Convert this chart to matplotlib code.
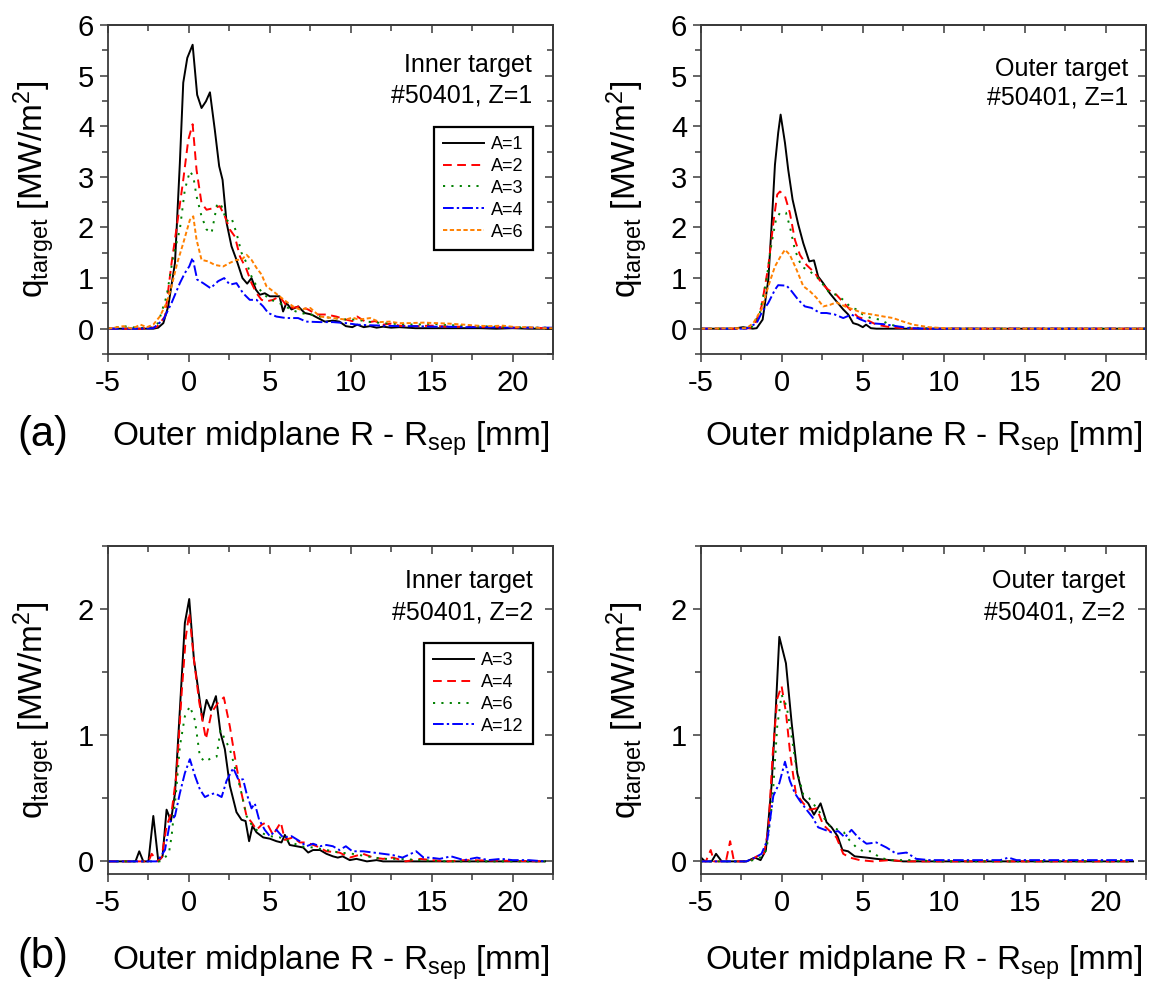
import numpy as np
import matplotlib
matplotlib.use("Agg")
import matplotlib.pyplot as plt
from matplotlib.ticker import MultipleLocator

plt.rcParams['font.family'] = ['Liberation Sans', 'DejaVu Sans']
plt.rcParams['mathtext.fontset'] = 'custom'
plt.rcParams['mathtext.rm'] = 'Liberation Sans'
plt.rcParams['mathtext.it'] = 'Liberation Sans:italic'
plt.rcParams['axes.unicode_minus'] = False

# ---- (a) inner target, Z=1 : (R - Rsep [mm], q [MW/m2])
in1_A1 = [(-5, 0), (-3, 0), (-2.2, 0), (-1.9, 0.02), (-1.58, 0.11), (-1.28, 0.44), (-0.86, 1.30),
          (-0.56, 3.27), (-0.35, 4.86), (-0.10, 5.35), (0.23, 5.61), (0.51, 4.62), (0.78, 4.36),
          (1.05, 4.49), (1.30, 4.67), (1.60, 3.93), (1.87, 3.21), (2.08, 2.94), (2.33, 2.09),
          (2.63, 1.63), (2.94, 1.36), (3.31, 1.00), (3.60, 0.89), (3.87, 1.00), (4.14, 0.77),
          (4.38, 0.67), (4.69, 0.70), (5.0, 0.64), (5.41, 0.64), (5.6, 0.64), (5.82, 0.34),
          (6.03, 0.51), (6.34, 0.38), (6.75, 0.44), (7.16, 0.31), (7.57, 0.28), (7.98, 0.21),
          (8.4, 0.14), (8.9, 0.16), (9.3, 0.14), (9.7, 0.05), (10.1, 0.03), (10.4, 0.08),
          (10.8, 0.03), (11.2, 0.05), (11.6, 0.02), (12.0, 0.04), (12.5, 0.02), (13.0, 0.03),
          (13.5, 0.02), (14.0, 0.01), (15.0, 0.01), (16.0, 0.01), (17.0, 0.01), (18.0, 0.01),
          (19.0, 0.0), (20.0, 0.01), (21.0, 0.0), (22.5, 0.0)]
in1_A2 = [(-5, 0), (-3, 0), (-2.0, 0.03), (-1.48, 0.24), (-1.07, 1.30), (-0.66, 2.22), (-0.35, 2.94),
          (-0.04, 3.73), (0.23, 4.04), (0.47, 3.14), (0.78, 2.48), (1.09, 2.35), (1.5, 2.38),
          (1.91, 2.42), (2.22, 2.22), (2.53, 1.96), (2.84, 1.82), (3.15, 1.43), (3.56, 1.17),
          (3.87, 0.90), (4.18, 0.70), (4.49, 0.57), (4.79, 0.54), (5.2, 0.57), (5.6, 0.64),
          (6.0, 0.47), (6.44, 0.41), (6.85, 0.44), (7.36, 0.38), (7.9, 0.28), (8.5, 0.28),
          (9.1, 0.24), (9.7, 0.18), (10.1, 0.15), (10.4, 0.24), (11.0, 0.12), (11.5, 0.15),
          (12.0, 0.08), (12.5, 0.10), (13.0, 0.06), (14.0, 0.05), (15.0, 0.06), (16.0, 0.04),
          (17.0, 0.04), (18.0, 0.03), (19.0, 0.03), (20.0, 0.02), (22.5, 0.01)]
in1_A3 = [(-5, 0), (-4.05, 0.05), (-3, 0.01), (-2.3, 0.03), (-1.9, 0.11), (-1.38, 0.64), (-0.97, 1.43),
          (-0.56, 1.96), (-0.25, 2.75), (0.06, 3.11), (0.27, 3.01), (0.47, 2.62), (0.78, 2.22),
          (1.09, 1.96), (1.4, 1.89), (1.6, 2.22), (1.75, 2.48), (2.02, 2.42), (2.33, 2.12),
          (2.63, 2.19), (2.94, 1.89), (3.25, 1.50), (3.56, 1.30), (3.87, 1.03), (4.18, 0.84),
          (4.59, 0.70), (5.0, 0.57), (5.41, 0.54), (5.8, 0.47), (6.3, 0.38), (6.85, 0.31),
          (7.5, 0.28), (8.1, 0.24), (8.9, 0.21), (9.7, 0.18), (10.4, 0.18), (11.0, 0.14),
          (12.0, 0.11), (13.0, 0.09), (14.0, 0.08), (15.0, 0.10), (16.0, 0.07), (17.0, 0.06),
          (18.0, 0.05), (19.0, 0.04), (20.0, 0.03), (21.0, 0.02), (22.5, 0.02)]
in1_A4 = [(-5, 0), (-3, 0), (-2.2, 0.01), (-1.58, 0.18), (-1.07, 0.51), (-0.56, 0.90), (-0.25, 1.10),
          (0.02, 1.23), (0.23, 1.40), (0.51, 0.97), (0.88, 0.90), (1.34, 0.80), (1.81, 0.94),
          (2.18, 1.00), (2.53, 0.87), (2.94, 0.90), (3.35, 0.70), (3.76, 0.57), (4.18, 0.57),
          (4.59, 0.44), (4.9, 0.31), (5.4, 0.24), (6.0, 0.21), (6.75, 0.21), (7.25, 0.14),
          (8.1, 0.13), (8.9, 0.13), (9.7, 0.11), (10.4, 0.08), (11.0, 0.07), (12.0, 0.06),
          (13.0, 0.05), (14.0, 0.05), (15.0, 0.04), (16.0, 0.04), (17.0, 0.03), (18.0, 0.03),
          (20.0, 0.02), (22.5, 0.02)]
in1_A6 = [(-5, 0), (-4.05, 0.05), (-3.5, 0.0), (-3.0, 0.08), (-2.6, 0.03), (-2.2, 0.08), (-1.8, 0.24),
          (-1.38, 0.51), (-1.07, 0.84), (-0.72, 1.30), (-0.35, 1.69), (0.06, 2.15), (0.27, 2.22),
          (0.47, 1.76), (0.78, 1.36), (1.19, 1.33), (1.6, 1.26), (2.12, 1.23), (2.53, 1.30),
          (2.94, 1.36), (3.25, 1.36), (3.56, 1.46), (3.87, 1.36), (4.18, 1.20), (4.49, 1.07),
          (4.79, 0.84), (5.2, 0.74), (5.6, 0.64), (6.0, 0.54), (6.44, 0.44), (6.85, 0.38),
          (7.5, 0.41), (8.1, 0.24), (8.9, 0.21), (9.7, 0.18), (10.1, 0.22), (10.5, 0.18),
          (11.2, 0.21), (11.8, 0.13), (12.4, 0.14), (13.0, 0.11), (13.6, 0.11), (14.5, 0.12),
          (15.3, 0.11), (16.1, 0.10), (17.0, 0.08), (17.8, 0.06), (18.6, 0.05), (19.4, 0.06),
          (20.2, 0.03), (21.0, 0.03), (21.9, 0.01), (22.5, 0.01)]

# ---- (a) outer target, Z=1
out1_A1 = [(-5, 0), (-3.0, 0), (-2.4, 0.03), (-1.8, 0.0), (-1.56, 0.01), (-1.19, 0.18), (-0.84, 0.97),
           (-0.64, 2.02), (-0.43, 3.24), (-0.23, 3.87), (-0.08, 4.23), (0.19, 3.67), (0.39, 3.14),
           (0.66, 2.55), (1.01, 2.06), (1.32, 1.69), (1.69, 1.33), (1.98, 1.35), (2.24, 1.03),
           (2.55, 0.90), (2.96, 0.70), (3.37, 0.54), (3.79, 0.38), (4.1, 0.28), (4.4, 0.11),
           (4.71, 0.08), (5.0, 0.03), (5.2, 0.08), (5.5, 0.01), (5.84, 0), (22.5, 0)]
out1_A2 = [(-5, 0), (-2.5, 0), (-1.98, 0.01), (-1.67, 0.08), (-1.26, 0.44), (-0.84, 1.23), (-0.53, 2.09),
           (-0.29, 2.65), (-0.12, 2.71), (0.19, 2.62), (0.49, 2.29), (0.8, 1.76), (1.11, 1.46),
           (1.52, 1.26), (2.04, 1.10), (2.45, 0.90), (2.86, 0.77), (3.37, 0.67), (3.79, 0.52),
           (4.2, 0.38), (4.71, 0.23), (5.2, 0.18), (5.84, 0.08), (6.67, 0.03), (7.49, 0.01),
           (8.5, 0), (22.5, 0)]
out1_A3 = [(-5, 0), (-2.5, 0), (-1.87, 0.03), (-1.36, 0.31), (-0.95, 0.97), (-0.64, 1.69), (-0.37, 2.15),
           (-0.12, 2.29), (0.25, 2.29), (0.49, 2.02), (0.8, 1.56), (1.21, 1.23), (1.73, 1.13),
           (2.14, 1.03), (2.55, 0.87), (2.96, 0.70), (3.37, 0.67), (3.79, 0.57), (4.2, 0.44),
           (4.6, 0.38), (5.0, 0.28), (5.5, 0.21), (6.05, 0.18), (6.67, 0.08), (7.49, 0.03),
           (8.3, 0.01), (9.5, 0), (22.5, 0)]
out1_A4 = [(-5, 0), (-2.2, 0), (-1.56, 0.11), (-1.26, 0.31), (-0.84, 0.51), (-0.43, 0.77), (-0.23, 0.86),
           (0.29, 0.85), (0.6, 0.74), (1.01, 0.57), (1.42, 0.44), (1.83, 0.41), (2.35, 0.31),
           (2.76, 0.31), (3.27, 0.28), (3.79, 0.21), (4.3, 0.28), (4.8, 0.19), (5.43, 0.11),
           (6.26, 0.09), (7.08, 0.05), (7.9, 0.01), (9.0, 0), (22.5, 0)]
out1_A6 = [(-5, 0), (-2.5, 0.01), (-2.18, 0.01), (-1.77, 0.11), (-1.26, 0.38), (-0.84, 0.84), (-0.43, 1.23),
           (-0.08, 1.43), (0.19, 1.56), (0.49, 1.46), (0.9, 1.17), (1.32, 0.84), (1.73, 0.74),
           (2.14, 0.61), (2.55, 0.44), (2.96, 0.47), (3.37, 0.52), (3.9, 0.44), (4.4, 0.38),
           (5.0, 0.31), (5.6, 0.28), (6.3, 0.24), (6.87, 0.21), (7.5, 0.14), (8.1, 0.08),
           (8.7, 0.05), (9.1, 0.03), (10.0, 0.01), (11.0, 0), (22.5, 0)]

# ---- (b) inner target, Z=2
in2_A3 = [(-5, 0), (-3.3, 0), (-3.07, 0.08), (-2.82, 0), (-2.5, 0), (-2.2, 0.36), (-1.89, 0), (-1.63, 0.04),
          (-1.38, 0.41), (-1.11, 0.32), (-0.86, 0.54), (-0.56, 1.2), (-0.25, 1.89), (0.02, 2.08),
          (0.31, 1.6), (0.58, 1.36), (0.84, 1.12), (1.09, 1.28), (1.36, 1.2), (1.67, 1.31),
          (1.95, 1.02), (2.22, 0.89), (2.53, 0.60), (2.94, 0.39), (3.25, 0.33), (3.5, 0.32),
          (3.72, 0.16), (3.93, 0.28), (4.18, 0.23), (4.59, 0.19), (5.0, 0.18), (5.41, 0.16),
          (5.72, 0.15), (5.93, 0.21), (6.23, 0.13), (6.65, 0.12), (7.06, 0.11), (7.37, 0.07),
          (7.67, 0.09), (8.1, 0.09), (8.5, 0.06), (8.9, 0.04), (9.2, 0.03), (9.5, 0.04),
          (9.94, 0.01), (10.35, 0.02), (11.0, 0), (11.6, 0.01), (12.0, 0), (22.0, 0)]
in2_A4 = [(-5, 0), (-2.5, 0), (-2.3, 0.06), (-1.95, 0), (-1.69, 0.03), (-1.38, 0.28), (-1.07, 0.39),
          (-0.76, 0.70), (-0.45, 1.33), (-0.19, 1.78), (0.02, 1.97), (0.31, 1.6), (0.64, 1.26),
          (1.05, 0.97), (1.4, 1.18), (1.81, 1.26), (2.16, 1.30), (2.53, 1.07), (2.9, 0.78),
          (3.25, 0.54), (3.56, 0.36), (3.87, 0.31), (4.18, 0.25), (4.49, 0.29), (4.79, 0.31),
          (5.2, 0.21), (5.68, 0.31), (5.93, 0.17), (6.44, 0.19), (6.85, 0.15), (7.26, 0.15),
          (7.9, 0.12), (8.5, 0.08), (9.3, 0.07), (9.94, 0.03), (10.76, 0.06), (11.4, 0.03),
          (12.0, 0.02), (12.6, 0.03), (13.4, 0), (14.3, 0.02), (15.0, 0.01), (16.0, 0.0),
          (17.0, 0.01), (22.0, 0)]
in2_A6 = [(-5, 0), (-1.8, 0), (-1.48, 0.03), (-1.23, 0.07), (-1.07, 0.2), (-0.8, 0.54), (-0.56, 0.91),
          (-0.25, 1.15), (0.06, 1.23), (0.37, 1.12), (0.68, 0.83), (0.99, 0.79), (1.4, 0.82),
          (1.71, 0.83), (1.95, 1.04), (2.22, 0.97), (2.53, 0.89), (2.94, 0.70), (3.25, 0.54),
          (3.56, 0.36), (3.97, 0.27), (4.38, 0.23), (5.0, 0.2), (5.62, 0.19), (6.23, 0.16),
          (6.85, 0.12), (7.67, 0.11), (8.5, 0.09), (9.3, 0.07), (10.1, 0.06), (11.0, 0.04),
          (12.0, 0.02), (13.0, 0.02), (14.3, 0.01), (16.0, 0.0), (22.0, 0)]
in2_A12 = [(-5, 0), (-2.0, 0), (-1.79, 0.03), (-1.48, 0.09), (-1.17, 0.31), (-0.86, 0.36), (-0.56, 0.54),
           (-0.25, 0.70), (0.06, 0.81), (0.37, 0.68), (0.68, 0.57), (0.99, 0.51), (1.3, 0.53),
           (1.6, 0.54), (2.02, 0.51), (2.33, 0.64), (2.74, 0.74), (3.05, 0.65), (3.35, 0.65),
           (3.56, 0.54), (3.87, 0.42), (4.07, 0.46), (4.34, 0.33), (4.69, 0.25), (5.0, 0.2),
           (5.41, 0.25), (5.82, 0.19), (6.34, 0.2), (6.85, 0.16), (7.26, 0.12), (7.67, 0.14),
           (8.1, 0.12), (8.5, 0.13), (8.9, 0.12), (9.3, 0.09), (9.7, 0.12), (10.1, 0.08),
           (10.76, 0.08), (11.4, 0.07), (12.0, 0.06), (12.6, 0.05), (13.2, 0.03), (14.05, 0.08),
           (14.5, 0.03), (14.9, 0.03), (15.5, 0.02), (16.2, 0.04), (17.0, 0.01), (17.8, 0.03),
           (18.5, 0.01), (19.3, 0.02), (20.0, 0.01), (21.0, 0.01), (22.0, 0.0)]

# ---- (b) outer target, Z=2
out2_A3 = [(-5, 0.03), (-4.75, 0), (-4.34, 0), (-4.07, 0.06), (-3.72, 0), (-2.18, 0), (-1.67, 0.03),
           (-1.32, 0.01), (-0.99, 0.09), (-0.64, 0.6), (-0.37, 1.23), (-0.16, 1.78), (0.25, 1.57),
           (0.6, 1.1), (0.95, 0.7), (1.32, 0.5), (1.63, 0.46), (1.98, 0.37), (2.39, 0.46),
           (2.76, 0.31), (3.07, 0.27), (3.44, 0.2), (3.74, 0.09), (4.09, 0.08), (4.5, 0.04),
           (5.23, 0.03), (5.84, 0.02), (6.67, 0.01), (7.5, 0), (21.7, 0)]
out2_A4 = [(-5, 0), (-4.7, 0), (-4.4, 0.09), (-4.2, 0), (-3.46, 0), (-3.2, 0.16), (-2.96, 0), (-1.98, 0),
           (-1.56, 0.04), (-1.11, 0.06), (-0.84, 0.25), (-0.58, 0.83), (-0.29, 1.29), (-0.02, 1.39),
           (0.25, 1.18), (0.53, 0.83), (0.86, 0.54), (1.32, 0.46), (1.73, 0.41), (2.14, 0.42),
           (2.55, 0.29), (2.96, 0.24), (3.37, 0.19), (3.79, 0.06), (4.2, 0.03), (4.81, 0.01),
           (5.64, 0), (6.67, 0.01), (7.7, 0), (21.7, 0)]
out2_A6 = [(-5, 0), (-2.2, 0), (-1.77, 0.01), (-1.36, 0.03), (-0.95, 0.09), (-0.58, 0.49), (-0.29, 1.07),
           (-0.02, 1.32), (0.29, 1.23), (0.6, 0.99), (0.91, 0.73), (1.32, 0.53), (1.69, 0.5),
           (2.04, 0.44), (2.45, 0.37), (2.96, 0.28), (3.48, 0.25), (3.83, 0.23), (4.16, 0.17),
           (4.61, 0.11), (5.02, 0.08), (5.53, 0.08), (6.05, 0.03), (6.67, 0.01), (8.3, 0.01),
           (9.5, 0), (21.7, 0)]
out2_A12 = [(-5, 0), (-2.2, 0), (-1.67, 0.03), (-1.26, 0.06), (-0.9, 0.17), (-0.53, 0.52), (-0.16, 0.62),
            (0.19, 0.79), (0.49, 0.64), (0.8, 0.54), (1.11, 0.48), (1.52, 0.41), (1.89, 0.35),
            (2.24, 0.27), (2.65, 0.25), (3.07, 0.23), (3.48, 0.24), (3.89, 0.19), (4.3, 0.25),
            (4.71, 0.19), (5.23, 0.14), (5.84, 0.15), (6.46, 0.11), (7.08, 0.06), (7.7, 0.07),
            (8.3, 0.02), (9.14, 0.01), (9.96, 0.01), (13.5, 0.01), (14.0, 0.03), (14.5, 0.01),
            (21.7, 0.01)]

labels_z1 = ["A=1", "A=2", "A=3", "A=4", "A=6"]
labels_z2 = ["A=3", "A=4", "A=6", "A=12"]

# line styles (colour, dash pattern)
sty = {
    "k": ("black", "-"),
    "r": ("#ff0000", (0, (4.5, 2.8))),
    "g": ("#008000", (0, (1.1, 3.2))),
    "b": ("#0000ff", (0, (5.5, 1.6, 1.2, 1.6))),
    "o": ("#ff8000", (0, (2.2, 1.3))),
}

LW = 1.4
W, H = 1154, 985
fig = plt.figure(figsize=(W / 100, H / 100), dpi=100)

def pos(left, top, bottom, right):
    return [left / W, 1 - bottom / H, (right - left) / W, (bottom - top) / H]

def setup(ax, ymax, ybot, top_px, bot_px, xlab_base):
    ax.set_xlim(-5, 22.5)
    ax.set_ylim(ybot, ymax)
    ax.xaxis.set_major_locator(MultipleLocator(5))
    ax.xaxis.set_minor_locator(MultipleLocator(2.5))
    ax.yaxis.set_major_locator(MultipleLocator(1))
    ax.yaxis.set_minor_locator(MultipleLocator(0.5))
    for s in ax.spines.values():
        s.set_color("#3a3a3a")
        s.set_linewidth(1.3)
    ax.tick_params(which="both", direction="out", labelsize=21, width=1.1, color="#3a3a3a")
    ax.tick_params(which="major", length=6, pad=4)
    ax.tick_params(which="minor", length=4)
    ax.tick_params(axis="x", which="major", pad=5)
    # mirrored inward ticks on top and right
    sx = ax.secondary_xaxis("top")
    sx.xaxis.set_major_locator(MultipleLocator(5))
    sx.xaxis.set_minor_locator(MultipleLocator(2.5))
    sx.tick_params(which="both", direction="in", labeltop=False, width=1.1, color="#3a3a3a")
    sx.tick_params(which="major", length=6)
    sx.tick_params(which="minor", length=4)
    sy = ax.secondary_yaxis("right")
    sy.yaxis.set_major_locator(MultipleLocator(1))
    sy.yaxis.set_minor_locator(MultipleLocator(0.5))
    sy.tick_params(which="both", direction="in", labelright=False, width=1.1, color="#3a3a3a")
    sy.tick_params(which="major", length=6)
    sy.tick_params(which="minor", length=4)
    for s in list(sx.spines.values()) + list(sy.spines.values()):
        s.set_color("#3a3a3a")
        s.set_linewidth(1.3)
    hgt = bot_px - top_px
    ax.set_xlabel(r"Outer midplane R - R$_{\mathrm{sep}}$ [mm]", fontsize=24)
    ax.xaxis.label.set_va("baseline")
    ax.xaxis.set_label_coords(0.5, (bot_px - xlab_base) / hgt)
    ax.set_ylabel(r"q$_{\mathrm{target}}$ [MW/m$^{2}$]", fontsize=24)
    ax.yaxis.set_label_coords(-51 / 445, 0.5)

def draw(ax, series, styles, labels):
    for data, key, lab in zip(series, styles, labels):
        xs, ys = zip(*data)
        c, ls = sty[key]
        ax.plot(xs, ys, color=c, linestyle=ls, lw=LW, label=lab)

def note(ax, l1, l2, xr, y1, y2):
    ax.text(xr, y1, l1, transform=ax.transAxes, ha="right", va="baseline", fontsize=18)
    ax.text(xr, y2, l2, transform=ax.transAxes, ha="right", va="baseline", fontsize=18)

def legend(ax, ytop):
    leg = ax.legend(loc="upper right", bbox_to_anchor=(0.955, ytop), fontsize=13,
                    handlelength=2.3, handletextpad=0.4, labelspacing=0.27,
                    borderpad=0.5, borderaxespad=0, fancybox=False, framealpha=1,
                    edgecolor="black")
    leg.get_frame().set_linewidth(1.6)

ax1 = fig.add_axes(pos(108, 25, 354, 553))
ax2 = fig.add_axes(pos(701, 25, 354, 1146))
ax3 = fig.add_axes(pos(108, 546, 874, 553))
ax4 = fig.add_axes(pos(701, 546, 874, 1146))

for ax in (ax1, ax2):
    setup(ax, 6, -0.5, 25, 354, 446)
for ax in (ax3, ax4):
    setup(ax, 2.5, -0.1, 546, 874, 970)

draw(ax1, [in1_A1, in1_A2, in1_A3, in1_A4, in1_A6], "krgbo", labels_z1)
draw(ax2, [out1_A1, out1_A2, out1_A3, out1_A4, out1_A6], "krgbo", labels_z1)
draw(ax3, [in2_A3, in2_A4, in2_A6, in2_A12], "krgb", labels_z2)
draw(ax4, [out2_A3, out2_A4, out2_A6, out2_A12], "krgb", labels_z2)

legend(ax1, 0.69)
legend(ax3, 0.704)

note(ax1, "Inner target", "#50401, Z=1", 0.953, 0.857, 0.763)
note(ax2, "Outer target", "#50401, Z=1", 0.96, 0.845, 0.757)
note(ax3, "Inner target", "#50401, Z=2", 0.955, 0.873, 0.777)
note(ax4, "Outer target", "#50401, Z=2", 0.953, 0.873, 0.777)

fig.text(17 / W, 1 - 446 / H, "(a)", fontsize=30, ha="left", va="baseline")
fig.text(17 / W, 1 - 968 / H, "(b)", fontsize=30, ha="left", va="baseline")

fig.savefig("out.png", dpi=100)
